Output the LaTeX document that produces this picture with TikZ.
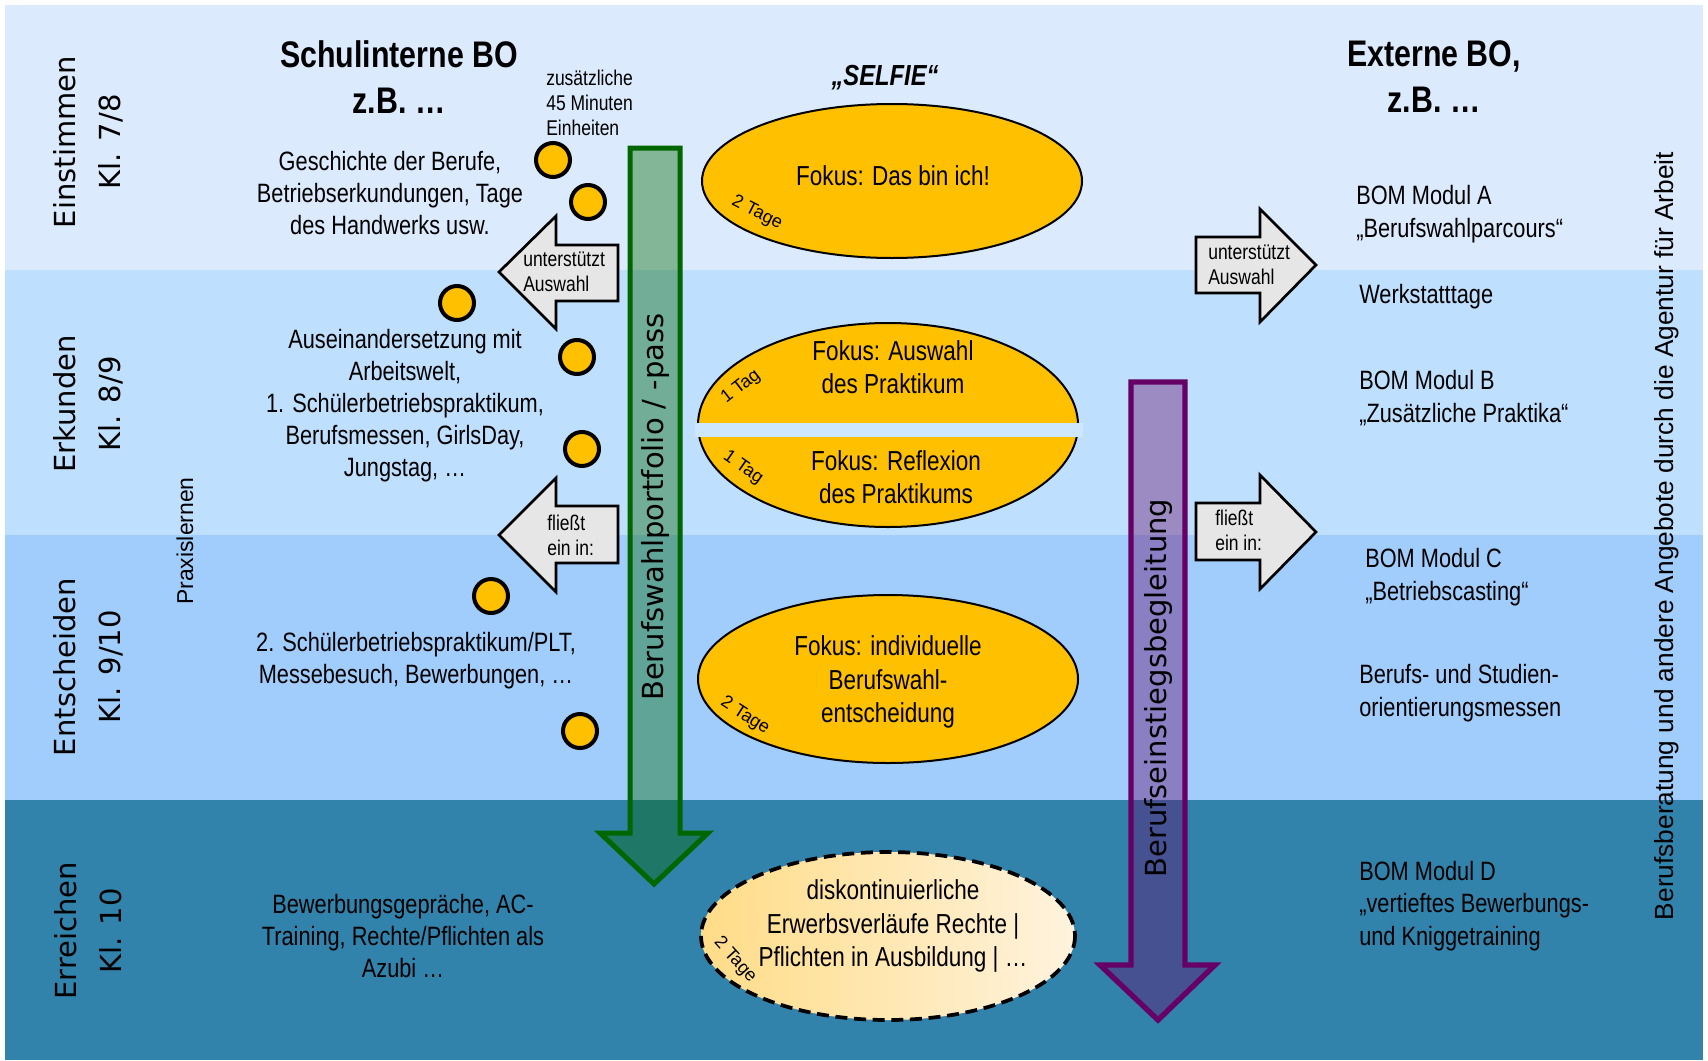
\documentclass[tikz,border=0pt]{standalone}
\usepackage{fontspec}
\newfontfamily\nar[FakeStretch=0.82]{Liberation Sans}
\newfontfamily\arl{Liberation Sans}
\newfontfamily\dvs{DejaVu Sans}
\definecolor{bandA}{RGB}{219,234,253}
\definecolor{bandB}{RGB}{190,223,253}
\definecolor{bandC}{RGB}{160,205,252}
\definecolor{bandD}{RGB}{50,131,172}
\definecolor{gold}{RGB}{255,192,0}
\definecolor{arrgray}{RGB}{230,230,230}
\definecolor{dgreen}{RGB}{0,102,0}
\definecolor{dpurple}{RGB}{102,0,102}
\definecolor{stripc}{RGB}{205,232,254}
\definecolor{creamA}{RGB}{255,220,135}
\definecolor{creamB}{RGB}{255,243,222}
\begin{document}
\begin{tikzpicture}[x=0.75pt,y=-0.75pt,
  body/.style={font=\nar\fontsize{19.9}{24}\selectfont, align=center, inner sep=0pt},
  rbody/.style={font=\nar\fontsize{19.9}{24.4}\selectfont, align=left, anchor=west, inner sep=0pt},
  headtxt/.style={font=\nar\bfseries\fontsize{27.75}{34.5}\selectfont, align=center, inner sep=0pt},
  smalltxt/.style={font=\nar\fontsize{16}{18.75}\selectfont, align=left, anchor=west, inner sep=0pt},
  phase/.style={font=\dvs\fontsize{21.75}{33.75}\selectfont, align=center, rotate=90, inner sep=0pt},
  etext/.style={font=\nar\fontsize{20.6}{25}\selectfont, align=center, inner sep=0pt},
  tage/.style={font=\arl\fontsize{13.5}{15}\selectfont, inner sep=0pt},
  bigarr/.style={font=\dvs\fontsize{21.75}{26}\selectfont, rotate=90, inner sep=0pt},
  dot/.style={circle, draw=black, line width=3pt, fill=gold, minimum size=25.5pt, inner sep=0pt},
  grayarr/.style={draw=black, fill=arrgray, line width=2pt, line join=miter},
  ell/.style={draw=black, fill=gold, line width=1.5pt}
]
\useasboundingbox (0,0) rectangle (1708,1060);
\fill[white] (0,0) rectangle (1708,1060);
% bands
\fill[bandA] (5,5) rectangle (1703,270);
\fill[bandB] (5,270) rectangle (1703,535);
\fill[bandC] (5,535) rectangle (1703,800);
\fill[bandD] (5,800) rectangle (1703,1060);

% green arrow
\draw[draw=dgreen, fill=dgreen, fill opacity=0.4, line width=3.75pt, line join=miter]
  (630,148) -- (680,148) -- (680,833) -- (708,833) -- (654,884) -- (600,833) -- (630,833) -- cycle;
\node[bigarr] (portfolio) at (655,507) {Berufswahlportfolio / -pass};

% purple arrow
\draw[draw=dpurple, fill=dpurple, fill opacity=0.38, line width=4pt, line join=miter]
  (1131,382) -- (1185,382) -- (1185,965) -- (1215,965) -- (1158,1020) -- (1100,965) -- (1131,965) -- cycle;
\node[bigarr] (begleitung) at (1158,688) {Berufseinstiegsbegleitung};

% ellipses
\draw[ell] (892,181) ellipse [x radius=190, y radius=77];
\draw[ell] (888,425) ellipse [x radius=190, y radius=102];
\fill[stripc] (695,423) rectangle (1083,437);
\draw[ell] (888,679) ellipse [x radius=190, y radius=84];
\shade[left color=creamA, right color=creamB] (888,936) ellipse [x radius=187, y radius=84];
\draw[black, line width=2.8pt, dash pattern=on 9pt off 5pt] (888,936) ellipse [x radius=187, y radius=84];

\node[font=\nar\bfseries\itshape\fontsize{21.75}{26}\selectfont, inner sep=0pt] (selfie) at (885,78) {„SELFIE“};
\node[etext] (e1) at (893,176) {Fokus: Das bin ich!};
\node[etext] (e2a) at (893,367) {Fokus: Auswahl\\des Praktikum};
\node[etext] (e2b) at (896,477) {Fokus: Reflexion\\des Praktikums};
\node[etext] (e3) at (888,682) {Fokus: individuelle\\Berufswahl-\\entscheidung};
\node[etext] (e4) at (893,926) {diskontinuierliche\\Erwerbsverläufe Rechte |\\Pflichten in Ausbildung | …};
\node[tage, rotate=-27] (tg1) at (757,213) {2 Tage};
\node[tage, rotate=38] (tg2) at (741,387) {1 Tag};
\node[tage, rotate=-35] (tg3) at (743,468) {1 Tag};
\node[tage, rotate=-33] (tg4) at (745,716) {2 Tage};
\node[tage, rotate=-48] (tg5) at (735,960) {2 Tage};

% dots
\node[dot] (d1) at (553,160) {};
\node[dot] (d2) at (588,202) {};
\node[dot] (d3) at (457,303) {};
\node[dot] (d4) at (577,357) {};
\node[dot] (d5) at (582,449) {};
\node[dot] (d6) at (491,596) {};
\node[dot] (d7) at (580,731) {};

% gray arrows
\draw[grayarr] (618,245) -- (556,245) -- (556,216) -- (499,272) -- (556,329) -- (556,301) -- (618,301) -- cycle;
\draw[grayarr] (618,506) -- (556,506) -- (556,478) -- (499,535) -- (556,592) -- (556,563) -- (618,563) -- cycle;
\draw[grayarr] (1196,237) -- (1260,237) -- (1260,209) -- (1316,265) -- (1260,322) -- (1260,293) -- (1196,293) -- cycle;
\draw[grayarr] (1196,503) -- (1260,503) -- (1260,475) -- (1316,532) -- (1260,589) -- (1260,560) -- (1196,560) -- cycle;
\node[smalltxt] (a1) at (523,272) {unterstützt\\Auswahl};
\node[smalltxt] (a2) at (547,535) {fließt\\ein in:};
\node[smalltxt] (a3) at (1208,265) {unterstützt\\Auswahl};
\node[smalltxt] (a4) at (1215,530) {fließt\\ein in:};

% phase labels
\node[phase] (ph1) at (88,142) {Einstimmen\\Kl. 7/8};
\node[phase] (ph2) at (88,404) {Erkunden\\Kl. 8/9};
\node[phase] (ph3) at (88,667) {Entscheiden\\Kl. 9/10};
\node[phase] (ph4) at (88,931) {Erreichen\\Kl. 10};
\node[font=\arl\fontsize{17.2}{20}\selectfont, rotate=90, inner sep=0pt] (praxis) at (185,541) {Praxislernen};
\node[font=\arl\fontsize{19.7}{22}\selectfont, rotate=90, inner sep=0pt] (agentur) at (1667,536) {Berufsberatung und andere Angebote durch die Agentur für Arbeit};

% headings
\node[headtxt] (hleft) at (399,77) {Schulinterne BO\\z.B. …};
\node[headtxt] (hright) at (1434,77) {Externe BO,\\z.B. …};
\node[smalltxt] (zus) at (546,103) {zusätzliche\\45 Minuten\\Einheiten};

% left column
\node[body] (l1) at (390,193) {Geschichte der Berufe,\\Betriebserkundungen, Tage\\des Handwerks usw.};
\node[body] (l2) at (405,406) {Auseinandersetzung mit\\Arbeitswelt,\\1. Schülerbetriebspraktikum,\\Berufsmessen, GirlsDay,\\Jungstag, …};
\node[body] (l3) at (416,661) {2. Schülerbetriebspraktikum/PLT,\\Messebesuch, Bewerbungen, …};
\node[body] (l4) at (403,936) {Bewerbungsgepräche, AC-\\Training, Rechte/Pflichten als\\Azubi …};

% right column
\node[rbody] (r1) at (1356,214) {BOM Modul A\\„Berufswahlparcours“};
\node[rbody] (r2) at (1359,297) {Werkstatttage};
\node[rbody] (r3) at (1359,398) {BOM Modul B\\„Zusätzliche Praktika“};
\node[rbody] (r4) at (1365,577) {BOM Modul C\\„Betriebscasting“};
\node[rbody] (r5) at (1359,693) {Berufs- und Studien-\\orientierungsmessen};
\node[rbody] (r6) at (1359,906) {BOM Modul D\\„vertieftes Bewerbungs-\\und Kniggetraining};
\end{tikzpicture}
\end{document}
